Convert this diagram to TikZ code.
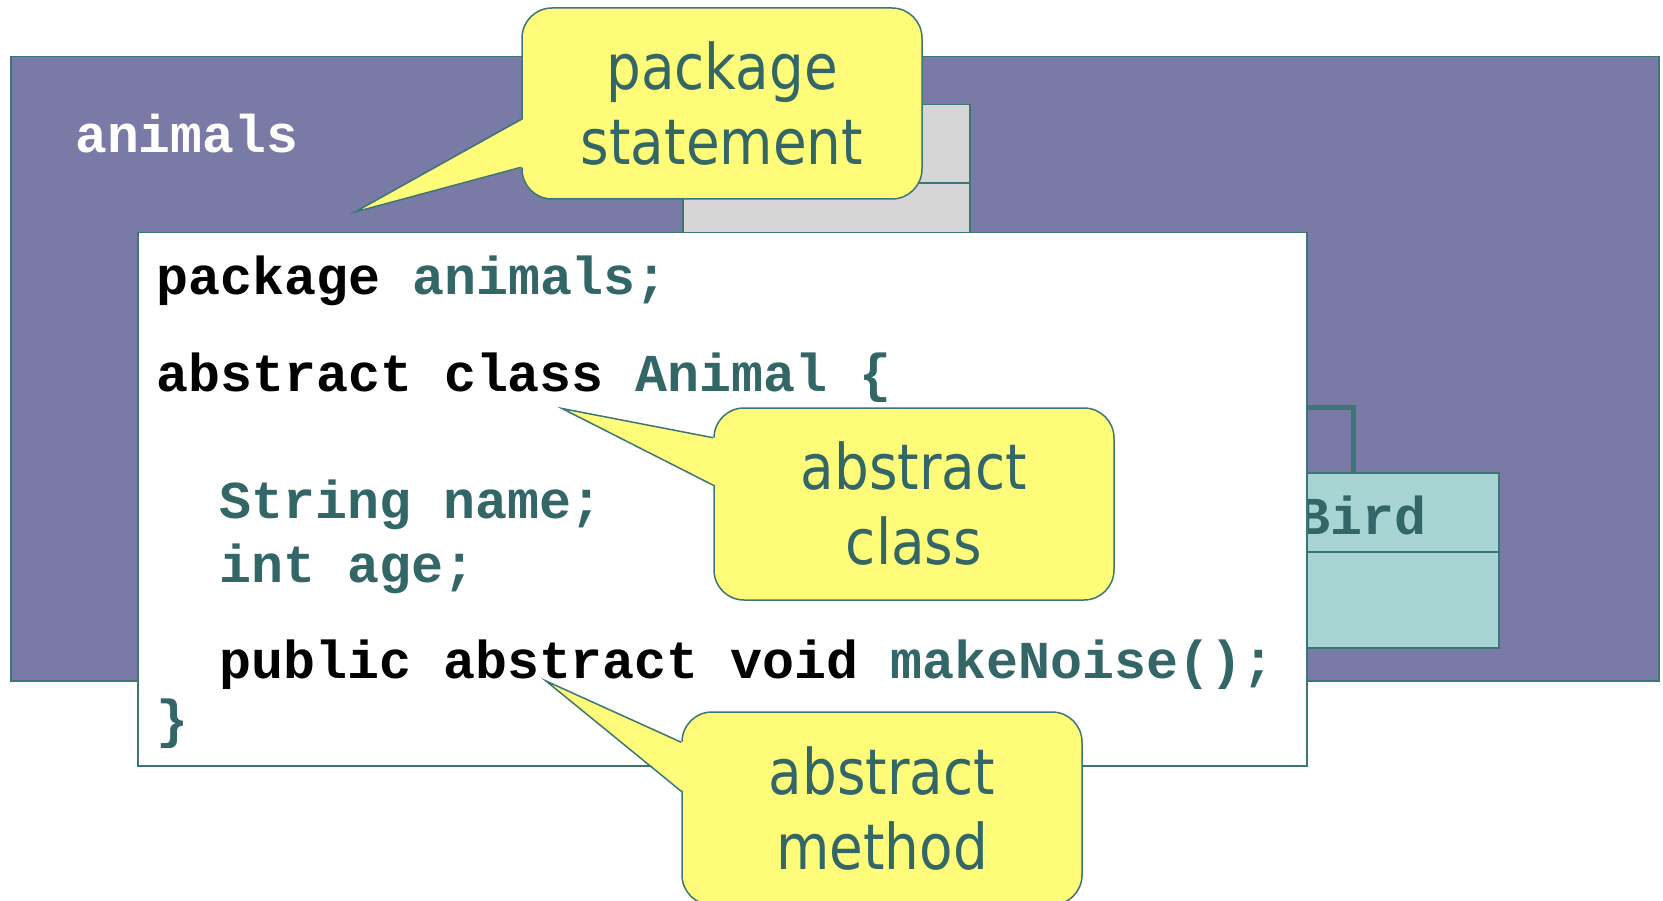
\documentclass[tikz,border=0pt]{standalone}
\usepackage{fontspec}
\newfontfamily\codefont{Liberation Mono}
\newfontfamily\notefont[FakeStretch=0.87]{DejaVu Sans}

\definecolor{pkgpurple}{RGB}{122,122,166}
\definecolor{classgray}{RGB}{214,214,214}
\definecolor{birdcyan}{RGB}{168,212,212}
\definecolor{noteyellow}{RGB}{255,252,122}
\definecolor{edgeteal}{RGB}{60,118,118}
\definecolor{codeteal}{RGB}{51,102,102}

\newcommand\ident[1]{\textcolor{codeteal}{#1}}
% tail of a callout: node, tip, and the two offsets below its top edge
\newcommand\notetail[4]{%
  \fill[noteyellow] (#2) -- ([shift={(2pt,-#3pt)}]#1.north west)
    -- ([shift={(2pt,-#4pt)}]#1.north west) -- cycle;
  \draw[noteedge] ([yshift=-#3pt]#1.north west) -- (#2)
    -- ([yshift=-#4pt]#1.north west);}

\begin{document}
\begin{tikzpicture}[
    x=1pt, y=-1pt,
    pkgframe/.style={
        draw=edgeteal,
        line width=1.5pt,
        fill=pkgpurple,
        anchor=north west,
        inner sep=0pt
    },
    classbox/.style={
        draw=edgeteal,
        line width=1.5pt,
        anchor=north west,
        inner sep=0pt
    },
    umledge/.style={draw=edgeteal, line width=1.5pt},
    inherit/.style={draw=edgeteal, line width=5pt},
    codebox/.style={
        draw=edgeteal,
        line width=1.5pt,
        fill=white,
        anchor=north west,
        inner sep=0pt
    },
    codeline/.style={
        anchor=base west,
        inner sep=0pt,
        font=\codefont\bfseries\fontsize{53.3}{60}\selectfont
    },
    note/.style={
        draw=edgeteal,
        line width=1.5pt,
        fill=noteyellow,
        rounded corners=30pt,
        minimum width=400pt,
        align=center,
        text=codeteal,
        font=\notefont\fontsize{63}{75}\selectfont
    },
    noteedge/.style={draw=edgeteal, line width=1.5pt, line join=miter}
]
\useasboundingbox (0,0) rectangle (1663,901);

% package frame with the classes inside
\node[pkgframe, minimum width=1648pt, minimum height=624pt] (pkg) at (10,56) {};
\node[codeline, text=white, font=\codefont\bfseries\fontsize{53}{60}\selectfont]
    (pkgname) at (75,153) {animals};

\node[classbox, fill=classgray, minimum width=287pt, minimum height=140pt] (other) at (682,104) {};
\draw[umledge] ([yshift=-79pt]other.north west) -- ([yshift=-79pt]other.north east);

\node[classbox, fill=birdcyan, minimum width=268pt, minimum height=175pt] (bird) at (1230,472) {};
\draw[umledge] ([yshift=-80pt]bird.north west) -- ([yshift=-80pt]bird.north east);
\node[codeline, text=codeteal] (birdname) at (1298,534) {Bird};

\coordinate (bend) at (1353,407);
\coordinate (hidden) at (1240,407);
\draw[inherit] (bird.north -| bend) -- (bend) -- (hidden);

% source listing
\node[codebox, minimum width=1169pt, minimum height=533pt] (code) at (137,232) {};
\node[codeline] (l1) at (156,295) {package \ident{animals;}};
\node[codeline] (l2) at (156,391) {abstract class \ident{Animal \{}};
\node[codeline] (l3) at (219,518) {\ident{String name;}};
\node[codeline] (l4) at (219,582) {\ident{int age;}};
\node[codeline] (l5) at (219,678) {public abstract void \ident{makeNoise();}};
\node[codeline] (l6) at (156,737) {\ident{\}}};

% callouts
\node[note, minimum height=191pt] (pkgnote) at (722,103.5) {package\\statement};
\coordinate (pkgtip) at (355,212);
\notetail{pkgnote}{pkgtip}{112}{160}

\node[note, minimum height=192pt] (classnote) at (914,504) {abstract\\class};
\coordinate (classtip) at (562,408.5);
\notetail{classnote}{classtip}{30.5}{78}

\node[note, minimum height=193pt] (methodnote) at (882,808.5) {abstract\\method};
\coordinate (methodtip) at (546,681);
\notetail{methodnote}{methodtip}{31}{80}

\end{tikzpicture}
\end{document}
